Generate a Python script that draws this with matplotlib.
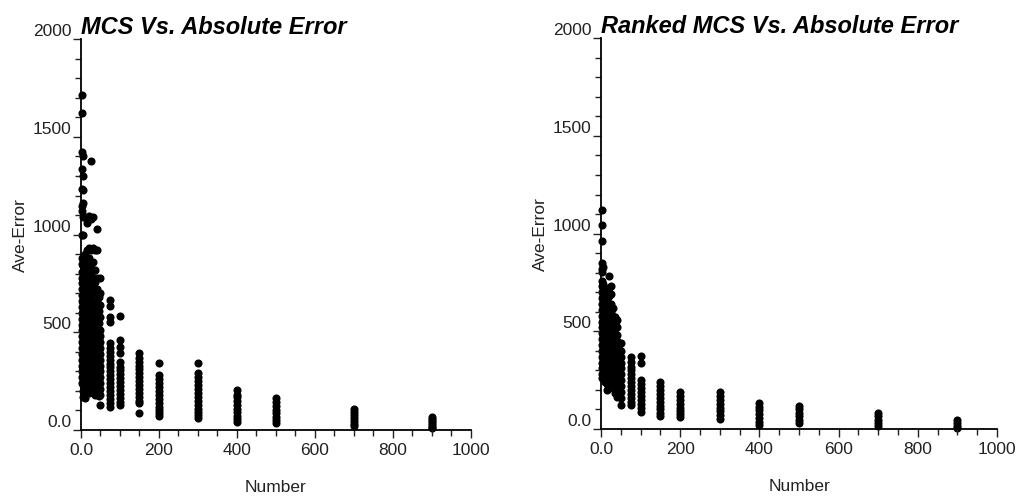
import matplotlib.pyplot as plt
from matplotlib.ticker import MultipleLocator, FuncFormatter

plt.rcParams["font.family"] = ["Liberation Sans", "DejaVu Sans"]

# Left panel: MCS vs. absolute error, one list of y values per x column
mcs_x = [2, 5, 10, 15, 20, 25, 30, 35, 40, 45, 50, 75, 100, 150, 200, 300, 400, 500, 700, 900]
mcs_y = [
    [1714, 1622, 1423, 1337, 1235, 1148, 1122, 1000, 880, 850, 810, 780, 750, 720, 690, 660,
     630, 600, 570, 540, 510, 480, 450, 420, 390, 360, 330, 300, 270, 240],
    [1400, 1300, 1230, 1160, 1090, 1000, 870, 840, 800, 760, 720, 680, 650, 620, 590, 560,
     530, 500, 470, 440, 410, 380, 350, 320, 290, 260, 230, 200, 168],
    [1090, 900, 860, 820, 790, 750, 710, 680, 640, 610, 580, 550, 520, 490, 460, 430, 400,
     370, 340, 310, 280, 250, 220, 163],
    [1060, 920, 870, 830, 780, 740, 700, 660, 630, 600, 570, 540, 510, 480, 450, 420, 390,
     360, 330, 300, 270, 240, 210],
    [1097, 929, 880, 820, 770, 730, 690, 650, 610, 580, 550, 520, 490, 460, 430, 400, 370,
     340, 310, 280, 250, 220, 190],
    [1378, 1080, 920, 850, 800, 760, 720, 680, 640, 600, 570, 540, 510, 480, 450, 420, 390,
     360, 330, 300, 270, 240, 210],
    [1092, 929, 860, 780, 740, 700, 660, 620, 580, 550, 520, 490, 460, 430, 400, 370, 340,
     310, 280, 250, 220, 200],
    [920, 820, 760, 700, 650, 610, 570, 530, 500, 470, 440, 410, 380, 350, 320, 290, 260,
     230, 200, 180],
    [1030, 920, 780, 720, 660, 610, 560, 520, 490, 460, 430, 400, 370, 340, 310, 280, 250,
     220, 190],
    [680, 610, 550, 500, 470, 440, 410, 380, 350, 320, 290, 260, 230, 200, 175],
    [780, 700, 640, 580, 510, 480, 450, 420, 390, 360, 330, 300, 270, 240, 210, 180, 128],
    [663, 633, 577, 551, 444, 420, 400, 380, 360, 340, 320, 300, 280, 260, 240, 220, 200,
     180, 160, 140, 117],
    [582, 459, 423, 393, 347, 325, 305, 285, 265, 245, 225, 205, 185, 165, 145, 128],
    [393, 370, 350, 330, 310, 290, 270, 250, 230, 210, 190, 170, 150, 138, 87],
    [342, 281, 260, 240, 220, 200, 180, 160, 140, 120, 100, 85, 71],
    [342, 290, 270, 250, 230, 210, 190, 170, 150, 130, 110, 90, 75, 61],
    [204, 179, 168, 150, 130, 110, 90, 70, 55, 41],
    [163, 145, 125, 105, 85, 65, 50, 36],
    [107, 90, 75, 60, 45, 32, 20],
    [66, 55, 45, 35, 25, 15, 10],
]

# Right panel: ranked MCS vs. absolute error
ranked_x = [2, 5, 10, 15, 20, 25, 30, 35, 40, 45, 50, 75, 100, 150, 200, 300, 400, 500, 700, 900]
ranked_y = [
    [1120, 1043, 962, 849, 820, 803, 760, 730, 700, 670, 640, 610, 580, 550, 520, 490, 460,
     430, 400, 370, 340, 310, 280, 260],
    [830, 740, 710, 680, 650, 620, 590, 560, 530, 500, 470, 440, 410, 380, 350, 320, 290, 266],
    [720, 690, 660, 630, 600, 570, 540, 510, 480, 450, 420, 390, 360, 330, 300, 270, 240],
    [700, 660, 620, 590, 560, 530, 500, 470, 440, 410, 380, 350, 320, 290, 260, 230, 200],
    [782, 720, 680, 640, 600, 570, 540, 510, 480, 450, 420, 390, 360, 330, 300, 270, 240, 210],
    [730, 690, 640, 600, 560, 530, 500, 470, 440, 410, 380, 350, 320, 290, 260, 230],
    [620, 580, 550, 520, 490, 460, 430, 400, 370, 340, 310, 280, 250, 220],
    [573, 540, 510, 480, 450, 420, 390, 360, 330, 300, 270, 240, 210, 185],
    [557, 522, 480, 450, 420, 390, 360, 330, 300, 270, 240, 210, 164],
    [440, 410, 380, 350, 320, 290, 260, 230, 200, 170],
    [440, 400, 368, 340, 310, 280, 250, 220, 190, 160, 123],
    [368, 343, 320, 300, 280, 260, 240, 220, 200, 180, 160, 140, 123],
    [373, 338, 251, 230, 210, 190, 170, 150, 130, 110, 87],
    [240, 220, 200, 180, 160, 140, 120, 100, 80, 66],
    [189, 170, 150, 130, 110, 90, 75, 61],
    [189, 170, 150, 130, 110, 90, 70, 51],
    [133, 115, 95, 75, 55, 38, 20],
    [118, 100, 82, 65, 48, 31],
    [82, 65, 48, 32, 15],
    [46, 32, 18, 5],
]


def tick_fmt(v, pos):
    return "0.0" if v == 0 else f"{v:.0f}"


def draw_panel(ax, xs, ys, title):
    for x, col in zip(xs, ys):
        ax.scatter([x] * len(col), col, s=34, color="black", linewidths=0, clip_on=False)
    ax.set_xlim(0, 1000)
    ax.set_ylim(0, 2000)
    ax.xaxis.set_major_locator(MultipleLocator(200))
    ax.xaxis.set_minor_locator(MultipleLocator(50))
    ax.yaxis.set_major_locator(MultipleLocator(500))
    ax.yaxis.set_minor_locator(MultipleLocator(100))
    ax.xaxis.set_major_formatter(FuncFormatter(tick_fmt))
    ax.yaxis.set_major_formatter(FuncFormatter(tick_fmt))
    for side in ["top", "right"]:
        ax.spines[side].set_visible(False)
    for side in ["left", "bottom"]:
        ax.spines[side].set_linewidth(1.3)
    ax.tick_params(which="major", length=6, width=1, labelsize=12.5, colors="#222222")
    ax.tick_params(which="minor", length=4, width=1, colors="#222222")
    ax.tick_params(axis="y", pad=1)
    ax.tick_params(axis="x", pad=3)
    for lbl in ax.get_yticklabels():
        lbl.set_verticalalignment("bottom")
    ax.set_xlabel("Number", fontsize=12.5, labelpad=16, color="#222222")
    ax.set_ylabel("Ave-Error", fontsize=12.5, labelpad=3, color="#222222")
    ax.set_title(title, loc="left", fontsize=17, fontweight="bold", style="italic", pad=2)


fig = plt.figure(figsize=(10.21, 4.96), dpi=100)
ax1 = fig.add_axes([0.0793, 0.133, 0.382, 0.788])
ax2 = fig.add_axes([0.5886, 0.135, 0.388, 0.788])

draw_panel(ax1, mcs_x, mcs_y, "MCS Vs. Absolute Error")
draw_panel(ax2, ranked_x, ranked_y, "Ranked MCS Vs. Absolute Error")

fig.savefig("out.png", dpi=100)
